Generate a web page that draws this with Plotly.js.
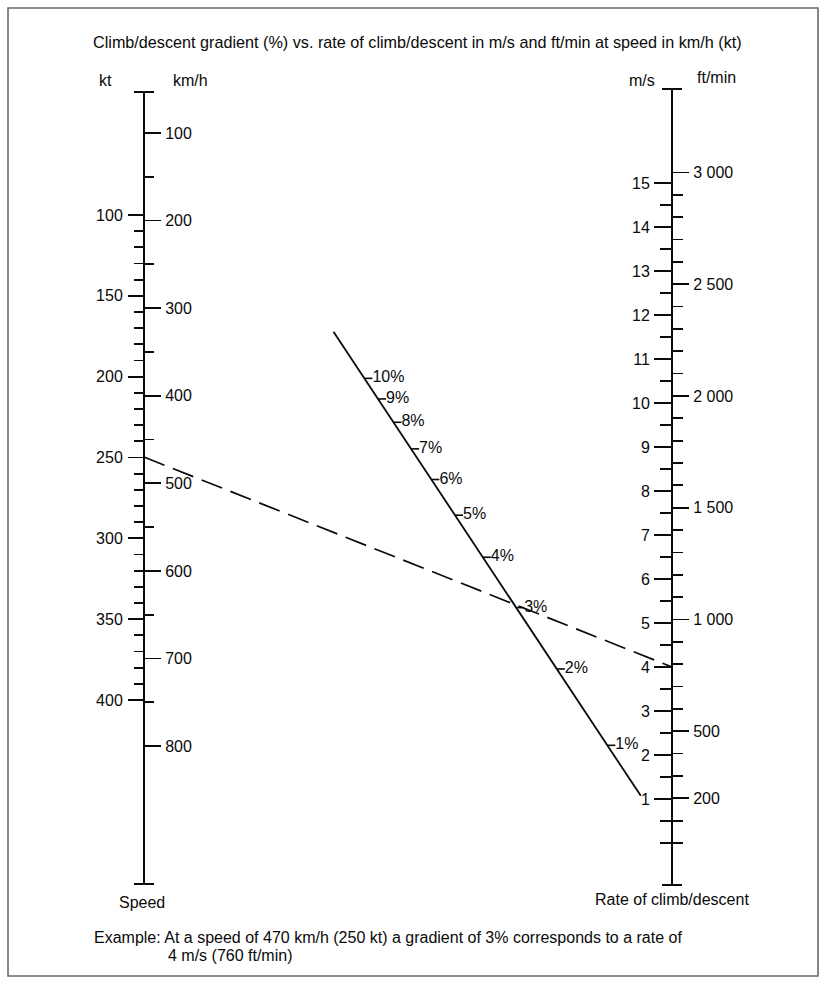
<!DOCTYPE html>
<html><head><meta charset="utf-8">
<script src="https://cdn.plot.ly/plotly-3.0.1.min.js"></script>
<style>html,body{margin:0;padding:0;background:#fff}#chart{width:827px;height:983px}</style>
</head><body><div id="chart"></div>
<script>
// ---------- data ----------
const kmhMajor = [100, 200, 300, 400, 500, 600, 700, 800];
const kmhMinor = [150, 250, 350, 450, 550, 650, 750];
const ktMajor = [100, 150, 200, 250, 300, 350, 400];
const ktMinor = [110, 120, 130, 140, 160, 170, 180, 190, 210, 220, 230, 240, 260, 270, 280, 290, 310, 320, 330, 340, 360, 370, 380, 390];
const msMajor = [1, 2, 3, 4, 5, 6, 7, 8, 9, 10, 11, 12, 13, 14, 15];
const msMinor = [0, 0.5, 1.5, 2.5, 3.5, 4.5, 5.5, 6.5, 7.5, 8.5, 9.5, 10.5, 11.5, 12.5, 13.5, 14.5];
const ftMajor = [200, 500, 1000, 1500, 2000, 2500, 3000];
const ftMajorText = ['200', '500', '1 000', '1 500', '2 000', '2 500', '3 000'];
const ftMinor = [0, 100, 300, 400, 600, 700, 800, 900, 1100, 1200, 1300, 1400, 1600, 1700, 1800, 1900, 2100, 2200, 2300, 2400, 2600, 2700, 2800, 2900];
const gradients = [1, 2, 3, 4, 5, 6, 7, 8, 9, 10];
const gradientLabels = ['1%', '2%', '3%', '4%', '5%', '6%', '7%', '8%', '9%', '10%'];
const gradientLineEnds = [12.8, 0.45];   // % at the two ends of the drawn gradient line
const exampleSpeedKmh = 470;             // 250 kt
const exampleRateMs = 4;                 // 760 ft/min

// ---------- layout constants ----------
const W = 827, H = 983;
const FT_PER_MS = 196.85;
const KMH_PER_MS = 3.6;
const leftPos = 144 / W, rightPos = 672 / W;
const font = 'Liberation Sans, Arial, Helvetica, sans-serif';
const ink = '#0a0a0a';
const tickFont = {family: font, size: 16, color: ink};
const py = p => 1 - p / H;   // pixel-row -> paper
const px = p => p / W;

const yKmh = {
  domain: [py(884), py(92)], range: [957.5, 53.2], anchor: 'free', position: leftPos, side: 'right',
  showline: true, linecolor: ink, linewidth: 2, showgrid: false, zeroline: false,
  tickmode: 'array', tickvals: kmhMajor, ticks: 'outside', ticklen: 16, tickwidth: 1.8, tickcolor: ink,
  tickfont: tickFont, ticklabelstandoff: 1,
  minor: {tickmode: 'array', tickvals: kmhMinor, ticks: 'outside', ticklen: 9, tickwidth: 1.8, tickcolor: ink}
};
const yKt = {
  domain: [py(884), py(92)], range: [513.8, 23.9], anchor: 'free', position: leftPos, side: 'left',
  showline: false, showgrid: false, zeroline: false,
  tickmode: 'array', tickvals: ktMajor, ticks: 'outside', ticklen: 16, tickwidth: 1.8, tickcolor: ink,
  tickfont: tickFont, ticklabelstandoff: 2,
  minor: {tickmode: 'array', tickvals: ktMinor, ticks: 'outside', ticklen: 10, tickwidth: 1.8, tickcolor: ink}
};
const msRange = [-0.955, 17.136];
const yMs = {
  domain: [py(885), py(89)], range: msRange, anchor: 'free', position: rightPos, side: 'left',
  showline: true, linecolor: ink, linewidth: 2, showgrid: false, zeroline: false,
  tickmode: 'array', tickvals: msMajor, ticks: 'outside', ticklen: 17, tickwidth: 1.8, tickcolor: ink,
  tickfont: tickFont, ticklabelstandoff: 1,
  minor: {tickmode: 'array', tickvals: msMinor, ticks: 'outside', ticklen: 11, tickwidth: 1.8, tickcolor: ink}
};
const yFt = {
  domain: [py(885), py(89)], range: [msRange[0] * FT_PER_MS, msRange[1] * FT_PER_MS], anchor: 'free', position: rightPos, side: 'right',
  showline: false, showgrid: false, zeroline: false,
  tickmode: 'array', tickvals: ftMajor, ticktext: ftMajorText, ticks: 'outside', ticklen: 16, tickwidth: 1.8, tickcolor: ink,
  tickfont: tickFont, ticklabelstandoff: 1,
  minor: {tickmode: 'array', tickvals: ftMinor, ticks: 'outside', ticklen: 10, tickwidth: 1.8, tickcolor: ink}
};
// hidden x: left scale at 0, right scale at 1
const xAx = {domain: [0, 1], range: [(0 - 144) / 528, (W - 144) / 528], visible: false, anchor: 'y', fixedrange: true};

// ---------- scale conversions (via axis definitions) ----------
const toPaper = (ax, v) => ax.domain[0] + (v - ax.range[0]) / (ax.range[1] - ax.range[0]) * (ax.domain[1] - ax.domain[0]);
const fromPaper = (ax, p) => ax.range[0] + (p - ax.domain[0]) / (ax.domain[1] - ax.domain[0]) * (ax.range[1] - ax.range[0]);
const rateOnSpeedAxis = ms => fromPaper(yKmh, toPaper(yMs, ms));

// Z-chart: diagonal joins 0 km/h (left) to 0 m/s (right)
const Y0 = rateOnSpeedAxis(0);
function gradPoint(g) {
  const v = exampleSpeedKmh;
  const r = rateOnSpeedAxis(v / KMH_PER_MS * g / 100);
  const x = v / (v + Y0 - r);
  return [x, x * Y0];
}

const lineEnds = gradientLineEnds.map(gradPoint);
const gp = gradients.map(gradPoint);
const tickDx = 8 / 528;
const tx = [], ty = [];
gp.forEach(p => { tx.push(p[0], p[0] + tickDx, null); ty.push(p[1], p[1], null); });

const traces = [
  {x: lineEnds.map(p => p[0]), y: lineEnds.map(p => p[1]), mode: 'lines', line: {color: ink, width: 1.8}, xaxis: 'x', yaxis: 'y', hoverinfo: 'skip'},
  {x: tx, y: ty, mode: 'lines', line: {color: ink, width: 1.6}, xaxis: 'x', yaxis: 'y', hoverinfo: 'skip'},
  {x: gp.map(p => p[0] + tickDx), y: gp.map(p => p[1]), mode: 'text', text: gradientLabels, textposition: 'middle right',
   textfont: {family: font, size: 16, color: ink}, cliponaxis: false, xaxis: 'x', yaxis: 'y', hoverinfo: 'skip'},
  {x: [0, 1], y: [exampleSpeedKmh, rateOnSpeedAxis(exampleRateMs)], mode: 'lines',
   line: {color: ink, width: 1.7, dash: '22px,9px'}, xaxis: 'x', yaxis: 'y', hoverinfo: 'skip'},
  {x: [null], y: [null], xaxis: 'x', yaxis: 'y2', hoverinfo: 'skip'},
  {x: [null], y: [null], xaxis: 'x', yaxis: 'y3', hoverinfo: 'skip'},
  {x: [null], y: [null], xaxis: 'x', yaxis: 'y4', hoverinfo: 'skip'}
];

const ann = (text, x, y, opts) => Object.assign({text, x: px(x), y: py(y), xref: 'paper', yref: 'paper', showarrow: false,
  font: {family: font, size: 16, color: ink}, xanchor: 'center', yanchor: 'middle'}, opts || {});

const capHalf = 10 / 528;
const shapes = [
  {type: 'rect', xref: 'paper', yref: 'paper', x0: px(8), x1: px(818), y0: py(976), y1: py(8), line: {color: '#6a6a6a', width: 1.6}},
  {type: 'line', xref: 'x', yref: 'paper', x0: -capHalf, x1: capHalf, y0: py(92), y1: py(92), line: {color: ink, width: 2}},
  {type: 'line', xref: 'x', yref: 'paper', x0: -capHalf, x1: capHalf, y0: py(884), y1: py(884), line: {color: ink, width: 2}},
  {type: 'line', xref: 'x', yref: 'paper', x0: 1 - capHalf, x1: 1 + capHalf, y0: py(89), y1: py(89), line: {color: ink, width: 2}},
  {type: 'line', xref: 'x', yref: 'paper', x0: 1 - capHalf, x1: 1 + capHalf, y0: py(885), y1: py(885), line: {color: ink, width: 2}}
];

const layout = {
  width: W, height: H, margin: {l: 0, r: 0, t: 0, b: 0}, showlegend: false,
  paper_bgcolor: '#fff', plot_bgcolor: 'rgba(0,0,0,0)', font: {family: font, size: 16, color: ink},
  xaxis: xAx, yaxis: yKmh, yaxis2: yKt, yaxis3: yMs, yaxis4: yFt,
  shapes: shapes,
  annotations: [
    ann('Climb/descent gradient (%) vs. rate of climb/descent in m/s and ft/min at speed in km/h (kt)', 417, 42, {font: {family: font, size: 16.2, color: ink}}),
    ann('kt', 105, 80), ann('km/h', 190, 80), ann('m/s', 642, 80), ann('ft/min', 716, 78),
    ann('Speed', 142, 902), ann('Rate of climb/descent', 672, 899),
    ann('Example: At a speed of 470 km/h (250 kt) a gradient of 3% corresponds to a rate of', 92, 937, {xanchor: 'left'}),
    ann('4 m/s (760 ft/min)', 166, 955, {xanchor: 'left'})
  ]
};

Plotly.newPlot('chart', traces, layout, {staticPlot: true, displayModeBar: false});
</script>
</body></html>
